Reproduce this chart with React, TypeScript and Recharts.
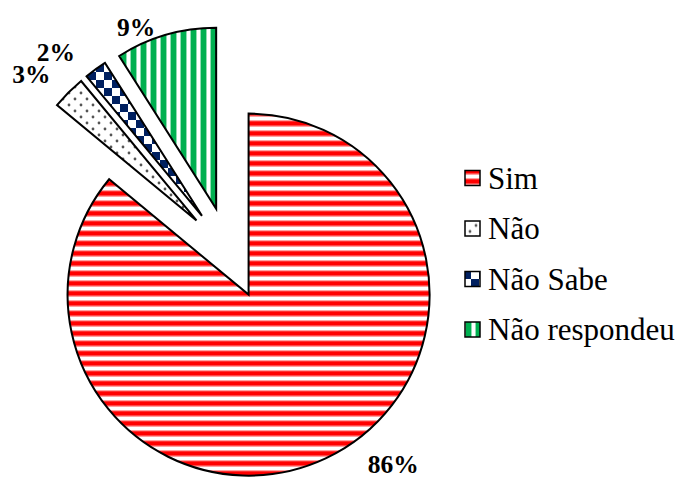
import React from "react";
import { PieChart, Pie, Cell, Legend } from "recharts";

// Answer shares (%), clockwise from 12 o'clock
const categories = ["Sim", "Não", "Não Sabe", "Não respondeu"];
const shares = [86, 3, 2, 9];
const percentLabels = ["86%", "3%", "2%", "9%"];
const patternIds = ["pat-sim", "pat-nao", "pat-naosabe", "pat-naoresp"];

const data = categories.map((name, i) => ({ name, value: shares[i] }));

const SERIF = "'Liberation Serif', 'Times New Roman', serif";
const CX = 229;
const CY = 253;
const RADIUS = 181;
const EXPLODE = 46;
const START = 90;
const END = -270;

// label nudges (px) from the point just outside each slice
const labelNudge: [number, number][] = [
  [59, -12],
  [-23, -4],
  [-28, -1],
  [-24, 12],
];

const total = shares.reduce((a, b) => a + b, 0);

/** Mid angle (recharts convention, degrees) of slice i. */
function midAngle(i: number): number {
  const before = shares.slice(0, i).reduce((a, b) => a + b, 0);
  return START - ((before + shares[i] / 2) / total) * 360;
}

function Patterns() {
  return (
    <svg width={0} height={0} style={{ position: "absolute" }}>
      <defs>
        <pattern id="pat-sim" patternUnits="userSpaceOnUse" width={10} height={10}>
          <rect width={10} height={10} fill="#fff" />
          <rect y={0} width={10} height={1.2} fill="#ffa0a0" />
          <rect y={1.2} width={10} height={4.6} fill="#ff0000" />
          <rect y={5.8} width={10} height={1.2} fill="#ffa0a0" />
        </pattern>
        <pattern id="pat-nao" patternUnits="userSpaceOnUse" width={12} height={12}>
          <rect width={12} height={12} fill="#fff" />
          <circle cx={3} cy={3} r={1.4} fill="#555" />
          <circle cx={9} cy={9} r={1.4} fill="#555" />
        </pattern>
        <pattern id="pat-naosabe" patternUnits="userSpaceOnUse" width={16} height={16}>
          <rect width={16} height={16} fill="#fff" />
          <rect x={0} y={0} width={8} height={8} fill="#002060" />
          <rect x={8} y={8} width={8} height={8} fill="#002060" />
        </pattern>
        <pattern id="pat-naoresp" patternUnits="userSpaceOnUse" width={10} height={10}>
          <rect width={10} height={10} fill="#fff" />
          <rect x={0} width={1} height={10} fill="#8fdcb2" />
          <rect x={1} width={5} height={10} fill="#00b050" />
          <rect x={6} width={1} height={10} fill="#8fdcb2" />
        </pattern>
      </defs>
    </svg>
  );
}

const renderLabel = (slice: number) => (props: any) => {
  if (props.index !== slice) return <g />;
  const rad = (props.midAngle * Math.PI) / 180;
  const r = props.outerRadius + 20;
  const x = props.cx + r * Math.cos(rad) + labelNudge[slice][0];
  const y = props.cy - r * Math.sin(rad) + labelNudge[slice][1];
  return (
    <text
      x={x}
      y={y}
      textAnchor="middle"
      dominantBaseline="central"
      style={{ fontFamily: SERIF, fontWeight: "bold", fontSize: 25.5 }}
      fill="#000"
    >
      {percentLabels[slice]}
    </text>
  );
};

function LegendBox() {
  return (
    <svg width={227} height={210}>
      {categories.map((c, i) => (
        <g key={c} transform={`translate(0, ${28 + i * 50.5})`}>
          <rect
            x={10}
            y={-7.5}
            width={15}
            height={15}
            fill={`url(#${patternIds[i]})`}
            stroke="#000"
            strokeWidth={1.5}
          />
          <text
            x={33}
            y={0}
            dominantBaseline="central"
            style={{ fontFamily: SERIF, fontSize: 31 }}
            fill="#000"
          >
            {c}
          </text>
        </g>
      ))}
    </svg>
  );
}

export default function App() {
  return (
    <div style={{ position: "relative", width: 682, height: 488, background: "#fff" }}>
      <style>{"body{margin:0}"}</style>
      <Patterns />
      <PieChart width={682} height={488} margin={{ top: 0, right: 0, bottom: 0, left: 0 }}>
        {categories.map((c, slice) => {
          const rad = (midAngle(slice) * Math.PI) / 180;
          return (
            <Pie
              key={c}
              name={c}
              data={data}
              dataKey="value"
              nameKey="name"
              cx={CX + EXPLODE * Math.cos(rad)}
              cy={CY - EXPLODE * Math.sin(rad)}
              innerRadius={0}
              outerRadius={RADIUS}
              startAngle={START}
              endAngle={END}
              label={renderLabel(slice)}
              labelLine={false}
              legendType="none"
              isAnimationActive={false}
            >
              {data.map((d, i) => (
                <Cell
                  key={d.name}
                  fill={i === slice ? `url(#${patternIds[i]})` : "none"}
                  stroke={i === slice ? "#000" : "none"}
                  strokeWidth={2}
                />
              ))}
            </Pie>
          );
        })}
        <Legend
          layout="vertical"
          verticalAlign="top"
          align="right"
          wrapperStyle={{ left: 455, top: 150, width: 227 }}
          content={() => <LegendBox />}
        />
      </PieChart>
    </div>
  );
}
